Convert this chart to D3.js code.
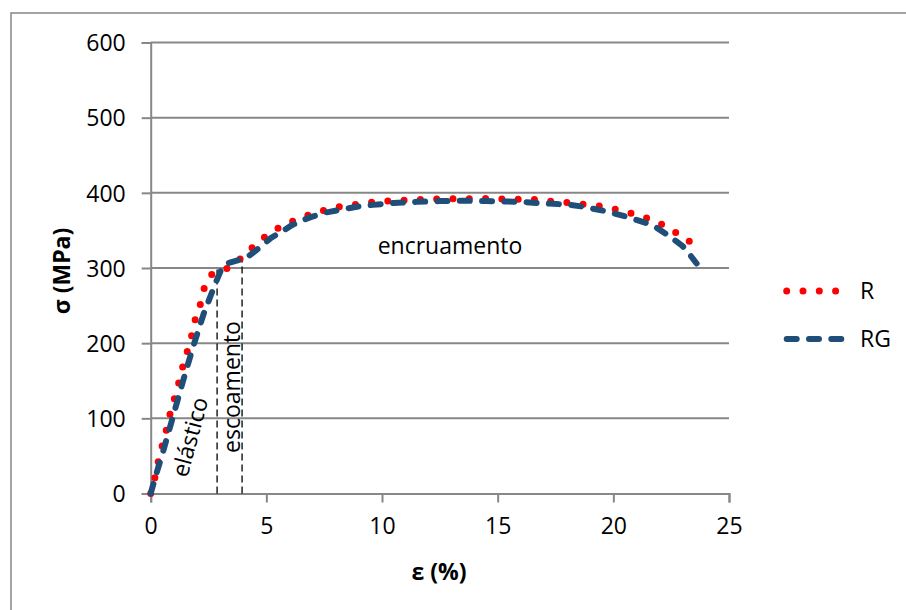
<!DOCTYPE html>
<html>
<head>
<meta charset="utf-8">
<script src="https://cdn.jsdelivr.net/npm/d3@7"></script>
<style>
  body { margin: 0; background: #fff; }
  svg { display: block; font-family: "Open Sans", sans-serif; }
</style>
</head>
<body>
<svg id="chart" width="906" height="610"></svg>
<script>
// strain (%) / stress (MPa)
const rStrain = [0, 0.19, 0.33, 0.5, 0.67, 0.83, 1.02, 1.2, 1.38, 1.58, 1.77, 1.91, 2.14, 2.3, 2.6, 3.25, 3.78, 4.28, 4.83, 5.39, 6.03, 6.68, 7.37, 8.04, 8.73, 9.42, 10.13, 10.75, 11.44, 12.13, 12.82, 13.51, 14.2, 14.89, 15.73, 16.45, 17.14, 17.83, 18.52, 19.22, 19.91, 20.6, 21.28, 21.95, 22.54, 23.17, 23.65];
const rStress = [0, 22, 43, 64, 84, 105, 126, 146, 168, 189, 210, 230, 251, 272, 291, 298.6, 309.6, 324, 339, 351, 361, 369, 375.6, 381, 384, 387, 389, 390, 391, 391.5, 392, 392, 392.5, 392, 391.6, 391.6, 389, 388, 385, 383.6, 379.7, 374, 368.5, 360.5, 350, 339, 324];

const rgStrain = [0, 0.2, 0.5, 0.97, 1.4, 1.84, 2.3, 2.83, 3.05, 3.3, 3.85, 4.15, 4.5, 5.2, 5.7, 6.1, 6.6, 7.0, 7.6, 8.3, 9.0, 9.6, 10.5, 11.5, 12.5, 13.5, 14.5, 15.3, 16.1, 16.85, 17.4, 18.1, 18.6, 19.1, 19.6, 20.1, 20.6, 21.1, 21.5, 21.9, 22.3, 22.7, 23.0, 23.3, 23.6];
const rgStress = [0, 22, 52, 103, 150, 196, 240, 282, 298, 306, 311, 314, 322, 340, 349, 357, 364, 368.5, 374, 378, 382, 384, 386.5, 388, 389, 389.5, 389, 388.5, 388, 386, 385.5, 384, 382, 379, 376, 372, 368, 363, 359, 353, 345, 336, 329, 318, 306];

const xTicks = [0, 5, 10, 15, 20, 25];
const yTicks = [0, 100, 200, 300, 400, 500, 600];

// phase limits (strain, %) and the stress where the marker stops
const phaseStrain = [2.87, 3.95];
const phaseTop = [298, 311];

const seriesNames = ["R", "RG"];

const svg = d3.select("#chart");
const x = d3.scaleLinear().domain([0, 25]).range([150.7, 729]);
const y = d3.scaleLinear().domain([0, 600]).range([493.5, 42.5]);
const axisGray = "#878787";
const fs = 23;

// outer frame (only left/top visible in the crop)
svg.append("rect")
  .attr("x", 11).attr("y", 13).attr("width", 930).attr("height", 640)
  .attr("fill", "none").attr("stroke", axisGray).attr("stroke-width", 1.5);

// horizontal grid
svg.append("g").selectAll("line")
  .data(yTicks.filter(d => d > 0)).enter().append("line")
  .attr("x1", x(0)).attr("x2", x(25))
  .attr("y1", d => y(d)).attr("y2", d => y(d))
  .attr("stroke", axisGray).attr("stroke-width", 2);

const yAxis = svg.append("g")
  .attr("transform", `translate(${x(0)},0)`)
  .call(d3.axisLeft(y).tickValues(yTicks).tickSize(9).tickPadding(16));
const xAxis = svg.append("g")
  .attr("transform", `translate(0,${y(0)})`)
  .call(d3.axisBottom(x).tickValues(xTicks).tickSize(9).tickPadding(14));

[yAxis, xAxis].forEach(a => {
  a.select(".domain").attr("stroke", axisGray).attr("stroke-width", 2);
  a.selectAll(".tick line").attr("stroke", axisGray).attr("stroke-width", 2);
  a.selectAll(".tick text")
    .attr("font-family", "Open Sans").attr("font-size", fs).attr("fill", "#000");
});
yAxis.selectAll(".tick text").attr("dy", "0.36em");
xAxis.selectAll(".tick text").attr("dy", "0.75em");

// axis titles
svg.append("text")
  .attr("transform", `translate(70,271) rotate(-90)`)
  .attr("text-anchor", "middle")
  .attr("font-size", fs).attr("font-weight", "bold")
  .text("σ (MPa)");
svg.append("text")
  .attr("x", 439).attr("y", 580)
  .attr("text-anchor", "middle")
  .attr("font-size", fs).attr("font-weight", "bold")
  .text("ε (%)");

// phase boundaries
svg.append("g").selectAll("line")
  .data(phaseStrain).enter().append("line")
  .attr("x1", d => x(d)).attr("x2", d => x(d))
  .attr("y1", y(0)).attr("y2", (d, i) => y(phaseTop[i]))
  .attr("stroke", "#000").attr("stroke-width", 1.3)
  .attr("stroke-dasharray", "7 4");

// curves
const line = d3.line().x(d => x(d[0])).y(d => y(d[1]));
const rData = d3.zip(rStrain, rStress);
const rgData = d3.zip(rgStrain, rgStress);

const styles = [
  { color: "#ff0000", width: 7, dash: "0 16.3" },
  { color: "#1f4e79", width: 6, dash: "10 12.3" }
];

svg.append("path").datum(rData)
  .attr("d", line).attr("fill", "none")
  .attr("stroke", styles[0].color).attr("stroke-width", styles[0].width)
  .attr("stroke-linecap", "round").attr("stroke-dasharray", styles[0].dash);

svg.append("path").datum(rgData)
  .attr("d", line).attr("fill", "none")
  .attr("stroke", styles[1].color).attr("stroke-width", styles[1].width)
  .attr("stroke-linecap", "round").attr("stroke-dasharray", styles[1].dash);

// annotations
svg.append("text")
  .attr("x", 450).attr("y", 254)
  .attr("text-anchor", "middle").attr("font-size", fs)
  .text("encruamento");
svg.append("text")
  .attr("transform", "translate(190,437) rotate(-75)")
  .attr("text-anchor", "middle").attr("dy", "0.35em").attr("font-size", fs)
  .text("elástico");
svg.append("text")
  .attr("transform", "translate(232,387) rotate(-90)")
  .attr("text-anchor", "middle").attr("dy", "0.35em").attr("font-size", fs)
  .text("escoamento");

// legend
const legendY = [291, 339];
const legend = svg.append("g").selectAll("g")
  .data(seriesNames).enter().append("g");
legend.append("line")
  .attr("x1", 786.7).attr("x2", (d, i) => i === 0 ? 851.5 : 843)
  .attr("y1", (d, i) => legendY[i]).attr("y2", (d, i) => legendY[i])
  .attr("stroke", (d, i) => styles[i].color)
  .attr("stroke-width", (d, i) => styles[i].width)
  .attr("stroke-linecap", "round")
  .attr("stroke-dasharray", (d, i) => styles[i].dash);
legend.append("text")
  .attr("x", 860).attr("y", (d, i) => legendY[i])
  .attr("dy", "0.36em").attr("font-size", fs)
  .text(d => d);
</script>
</body>
</html>
